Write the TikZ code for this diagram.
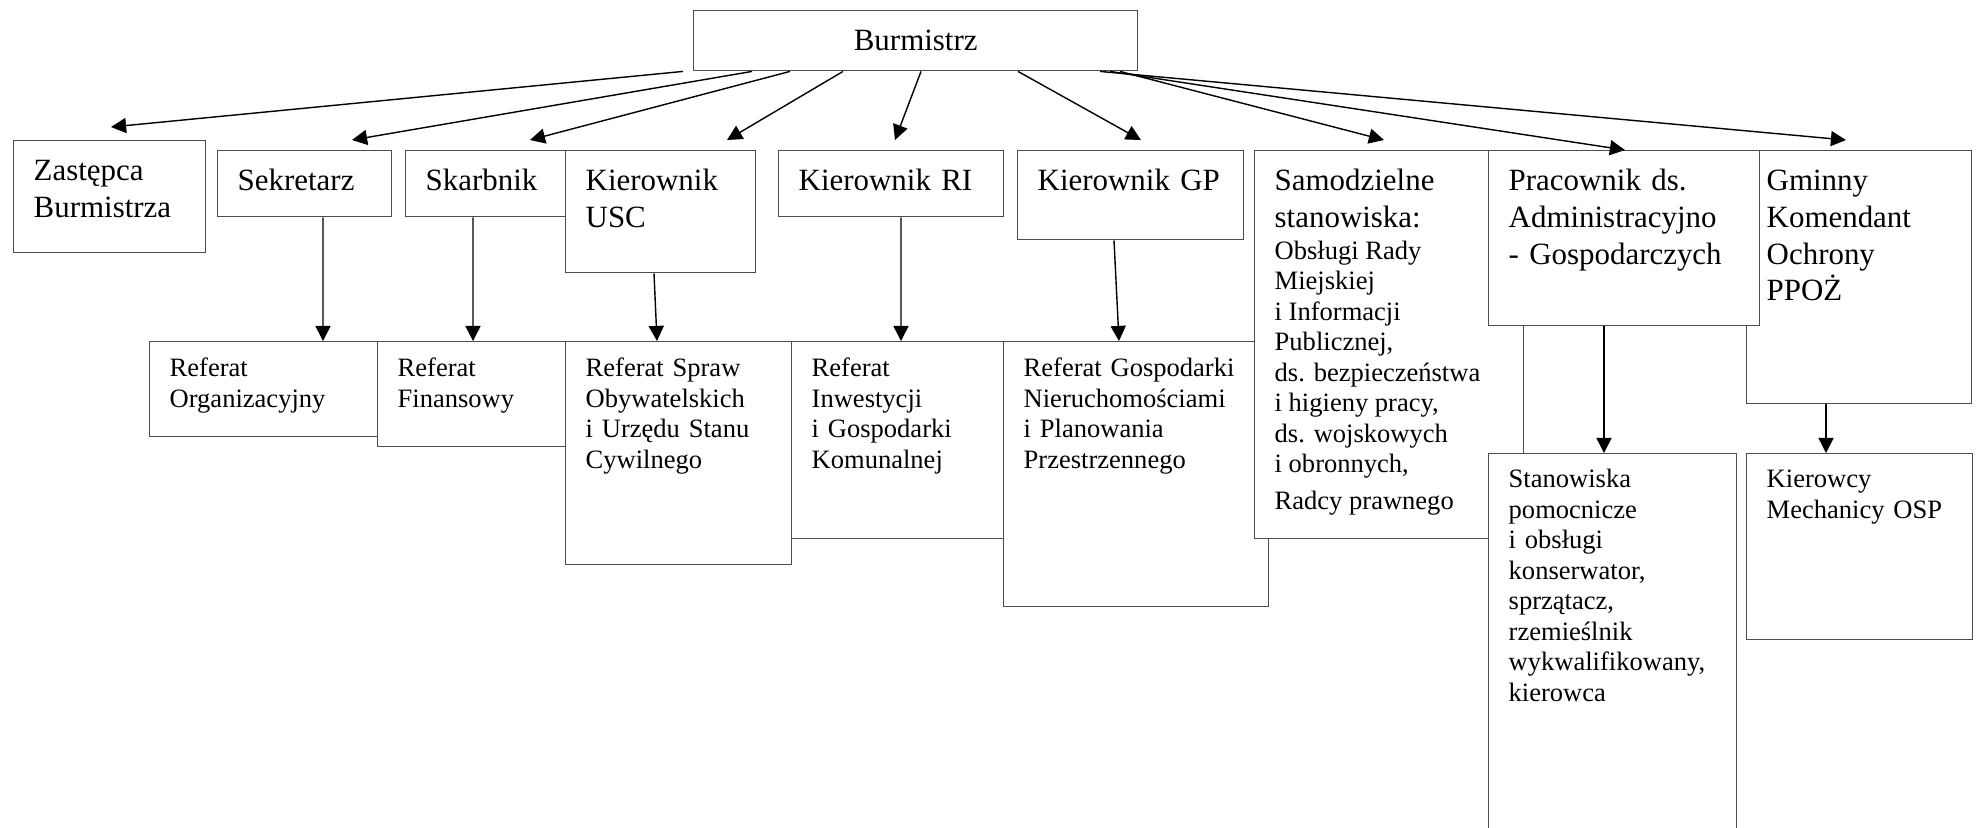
\documentclass[tikz,border=0pt]{standalone}
\usepackage{fontspec}
\setmainfont{Liberation Serif}
\usetikzlibrary{arrows.meta,calc}
\newcommand\duzy{\fontsize{8.8pt}{10.45pt}\selectfont}
\newcommand\maly{\fontsize{7.55pt}{8.68pt}\selectfont}
\hyphenpenalty=10000

\begin{document}
\begin{tikzpicture}[
  kom/.style={draw=black!70,fill=white,line width=.4pt,anchor=north west,
    inner xsep=.2cm,inner ysep=0pt,align=left},
  gora/.style={kom,font=\duzy,text height=.40cm},
  dol/.style={kom,font=\maly,text height=.35cm},
  strz/.style={line width=.4pt,-{Triangle[length=4.3pt,width=4.3pt]}}
]
\clip (0,0) rectangle (19.77,-8.27);
% burmistrz i pierwszy poziom
\node[draw=black!70,line width=.4pt,anchor=north west,inner sep=0pt,
  minimum width=4.44cm,minimum height=.60cm,font=\duzy] (burm) at (6.93,-.10) {Burmistrz};
\node[gora,text width=1.52cm,text depth=.72cm] (zast) at (.13,-1.40) {Zastępca\\Burmistrza};
\node[gora,text width=1.34cm,text depth=.26cm] (sekr) at (2.17,-1.50) {Sekretarz};
\node[gora,text width=1.20cm,text depth=.26cm] (skarb) at (4.05,-1.50) {Skarbnik};
\node[gora,text width=1.50cm,text depth=.82cm] (usc) at (5.65,-1.50) {Kierownik\\USC};
\node[gora,text width=1.85cm,text depth=.26cm] (ri) at (7.78,-1.50) {Kierownik RI};
\node[gora,text width=1.86cm,text depth=.49cm] (gp) at (10.17,-1.50) {Kierownik GP};
\node[dol,text width=2.25cm,text depth=2.30cm] (rgn) at (10.03,-3.41)
  {Referat Gospodarki\\Nieruchomościami\\i Planowania\\Przestrzennego};
\node[gora,text width=2.29cm,text depth=3.48cm] (samo) at (12.54,-1.50)
  {Samodzielne\\stanowiska:\par\vspace{.3pt}\maly\spaceskip=0pt\xspaceskip=0pt
   Obsługi Rady\\Miejskiej\\i Informacji\\Publicznej,\\ds. bezpieczeństwa\\i higieny pracy,\\ds. wojskowych\\i obronnych,\\Radcy prawnego};
\node[gora,text width=1.85cm,text depth=2.13cm] (gmin) at (17.46,-1.50) {Gminny\\Komendant\\Ochrony\\PPOŻ};
\node[gora,text width=2.31cm,text depth=1.35cm] (prac) at (14.88,-1.50)
  {Pracownik ds.\\Administracyjno\\- Gospodarczych};
% referaty
\node[dol,text width=1.88cm,text depth=.60cm] (rorg) at (1.49,-3.41) {Referat\\Organizacyjny};
\node[dol,text width=1.48cm,text depth=.70cm] (rfin) at (3.77,-3.41) {Referat\\Finansowy};
\node[dol,text width=1.86cm,text depth=1.88cm] (rspr) at (5.65,-3.41)
  {Referat Spraw\\Obywatelskich\\i Urzędu Stanu\\Cywilnego};
\node[dol,text width=1.72cm,text depth=1.62cm] (rinw) at (7.91,-3.41)
  {Referat\\Inwestycji\\i Gospodarki\\Komunalnej};
\node[dol,text width=2.08cm,text height=.34cm,text depth=3.66cm] (stan) at (14.88,-4.53)
  {Stanowiska\\pomocnicze\\i obsługi\\konserwator,\\sprzątacz,\\rzemieślnik\\wykwalifikowany,\\kierowca};
\node[dol,text width=1.86cm,text height=.34cm,text depth=1.52cm] (kier) at (17.46,-4.53)
  {Kierowcy\\Mechanicy OSP};
% strzalki od burmistrza
\draw[strz] ($(burm.south west)+(-.10,0)$) -- ($(zast.north west)+(.98,.13)$);
\draw[strz] ($(burm.south west)+(.59,0)$) -- ($(sekr.north west)+(1.35,.10)$);
\draw[strz] ($(burm.south west)+(.97,0)$) -- ($(skarb.north west)+(1.25,.10)$);
\draw[strz] ($(burm.south west)+(1.50,0)$) -- ($(usc.north west)+(1.62,.10)$);
\draw[strz] ($(burm.south west)+(2.28,0)$) -- ($(ri.north west)+(1.17,.10)$);
\draw[strz] ($(burm.south west)+(3.25,0)$) -- ($(gp.north west)+(1.24,.10)$);
\draw[strz] ($(burm.south west)+(4.27,0)$) -- ($(samo.north west)+(1.30,.10)$);
\draw[strz] ($(burm.south west)+(4.17,0)$) -- ($(prac.north west)+(1.37,0)$);
\draw[strz] ($(burm.south west)+(4.07,0)$) -- ($(gmin.north west)+(1.00,.10)$);
% strzalki w dol
\draw[strz] ($(sekr.south west)+(1.06,0)$) -- ($(rorg.north west)+(1.74,0)$);
\draw[strz] ($(skarb.south west)+(.68,0)$) -- ($(rfin.north west)+(.96,0)$);
\draw[strz] ($(usc.south west)+(.89,0)$) -- ($(rspr.north west)+(.92,0)$);
\draw[strz] ($(ri.south west)+(1.23,0)$) -- ($(rinw.north west)+(1.10,0)$);
\draw[strz] ($(gp.south west)+(.97,0)$) -- ($(rgn.north west)+(1.16,0)$);
\draw[strz] ($(prac.south west)+(1.16,0)$) -- ($(stan.north west)+(1.16,0)$);
\draw[strz] ($(gmin.south west)+(.80,0)$) -- ($(kier.north west)+(.80,0)$);
\end{tikzpicture}
\end{document}
